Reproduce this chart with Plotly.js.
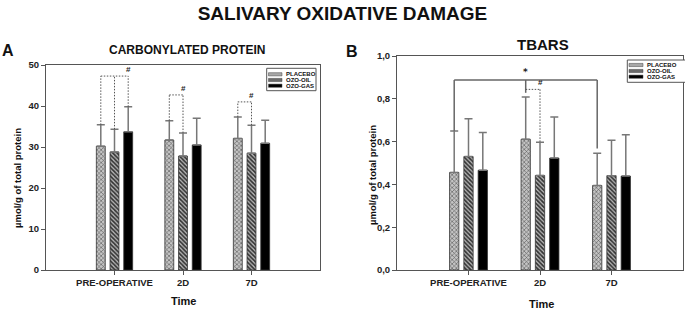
<!DOCTYPE html>
<html>
<head>
<meta charset="utf-8">
<script src="https://cdn.plot.ly/plotly-3.0.1.min.js"></script>
<style>
  html, body { margin: 0; padding: 0; background: #fff; }
  #chart { width: 685px; height: 310px; }
</style>
</head>
<body>
<div id="chart"></div>
<script>
// Time points
const categories = ['PRE-OPERATIVE', '2D', '7D'];
const groupNames = ['PLACEBO', 'OZO-OIL', 'OZO-GAS'];

// Carbonylated protein (µmol/g of total protein): mean and SD
const carbPlacebo = [30.2, 31.7, 32.1];
const carbPlaceboSD = [5.2, 4.7, 5.2];
const carbOil = [28.8, 27.8, 28.5];
const carbOilSD = [5.5, 5.6, 6.8];
const carbGas = [33.7, 30.5, 30.9];
const carbGasSD = [6.1, 6.5, 5.6];

// TBARS (µmol/g of total protein): mean and SD
const tbarsPlacebo = [0.456, 0.611, 0.395];
const tbarsPlaceboSD = [0.193, 0.197, 0.150];
const tbarsOil = [0.530, 0.442, 0.441];
const tbarsOilSD = [0.177, 0.155, 0.165];
const tbarsGas = [0.466, 0.523, 0.439];
const tbarsGasSD = [0.177, 0.192, 0.193];

const W = 685, H = 310;
const px = x => x / W;
const py = y => 1 - y / H;

const FONT = 'Liberation Sans, Arial, sans-serif';
const DOTS = '1.5px,1.5px';

const styles = [
  { pattern: { shape: 'x', size: 3, solidity: 0.35, fgcolor: '#555', bgcolor: '#c4c4c4' }, color: '#c4c4c4', legend: '#a8a8a8' },
  { pattern: { shape: '\\', size: 3, solidity: 0.55, fgcolor: '#333', bgcolor: '#b5b5b5' }, color: '#b5b5b5', legend: '#6a6a6a' },
  { pattern: { shape: '' }, color: '#000', legend: '#000' }
];

function barTrace(name, y, sd, idx, xa, ya) {
  return {
    type: 'bar',
    name: name,
    x: categories,
    y: y,
    xaxis: xa,
    yaxis: ya,
    showlegend: false,
    marker: {
      color: styles[idx].color,
      pattern: styles[idx].pattern,
      line: { color: '#333', width: 0.8 }
    },
    error_y: {
      type: 'data',
      symmetric: false,
      array: sd,
      arrayminus: sd.map(() => 0),
      color: '#777',
      thickness: 1.5,
      width: 4
    },
    hoverinfo: 'skip'
  };
}

const data = [
  barTrace(groupNames[0], carbPlacebo, carbPlaceboSD, 0, 'x', 'y'),
  barTrace(groupNames[1], carbOil, carbOilSD, 1, 'x', 'y'),
  barTrace(groupNames[2], carbGas, carbGasSD, 2, 'x', 'y'),
  barTrace(groupNames[0], tbarsPlacebo, tbarsPlaceboSD, 0, 'x2', 'y2'),
  barTrace(groupNames[1], tbarsOil, tbarsOilSD, 1, 'x2', 'y2'),
  barTrace(groupNames[2], tbarsGas, tbarsGasSD, 2, 'x2', 'y2')
];

const cap = (m, s, i) => m[i] + s[i];
const OFF = 0.2; // grouped bar offset within a time point

const shapes = [];
const annotations = [];

function seg(xa, ya, x0, y0, x1, y1, dash, color, width) {
  shapes.push({
    type: 'line', xref: xa, yref: ya, x0: x0, y0: y0, x1: x1, y1: y1,
    line: { color: color || '#555', width: width || 1, dash: dash || 'solid' }
  });
}
function mark(xa, ya, x, y, text, size, family) {
  annotations.push({
    xref: xa, yref: ya, x: x, y: y, text: text, showarrow: false,
    yanchor: 'bottom',
    font: { family: family || FONT, size: size || 8, color: '#222', weight: 'bold' }
  });
}

// Carbonylated protein: dotted comparison brackets
(function () {
  const lvl = 47.3;
  seg('x', 'y', -OFF, cap(carbPlacebo, carbPlaceboSD, 0), -OFF, lvl, DOTS);
  seg('x', 'y', 0, cap(carbOil, carbOilSD, 0), 0, lvl, DOTS);
  seg('x', 'y', OFF, cap(carbGas, carbGasSD, 0), OFF, lvl, DOTS);
  seg('x', 'y', -OFF, lvl, OFF, lvl, DOTS);
  mark('x', 'y', OFF, lvl, '#');

  const l2 = 42.7;
  seg('x', 'y', 1 - OFF, cap(carbPlacebo, carbPlaceboSD, 1), 1 - OFF, l2, DOTS);
  seg('x', 'y', 1, cap(carbOil, carbOilSD, 1), 1, l2, DOTS);
  seg('x', 'y', 1 - OFF, l2, 1, l2, DOTS);
  mark('x', 'y', 1, l2, '#');

  const l3 = 41.0;
  seg('x', 'y', 2 - OFF, cap(carbPlacebo, carbPlaceboSD, 2), 2 - OFF, l3, DOTS);
  seg('x', 'y', 2, cap(carbOil, carbOilSD, 2), 2, l3, DOTS);
  seg('x', 'y', 2 - OFF, l3, 2, l3, DOTS);
  mark('x', 'y', 2, l3, '#');
})();

// TBARS: solid bracket across time points for placebo, dotted for 2D groups
(function () {
  const top = 0.888;
  const c = '#666';
  seg('x2', 'y2', -OFF, cap(tbarsPlacebo, tbarsPlaceboSD, 0), -OFF, top, 'solid', c, 1.5);
  seg('x2', 'y2', -OFF, top, 2 - OFF, top, 'solid', c, 1.5);
  seg('x2', 'y2', 2 - OFF, top, 2 - OFF, cap(tbarsPlacebo, tbarsPlaceboSD, 2) + 0.023, 'solid', c, 1.5);
  seg('x2', 'y2', 1 - OFF, top, 1 - OFF, cap(tbarsPlacebo, tbarsPlaceboSD, 1) + 0.02, 'solid', c, 1.5);
  mark('x2', 'y2', 1 - OFF, top + 0.005, '*', 9, 'DejaVu Sans, sans-serif');

  const l = 0.844;
  seg('x2', 'y2', 1 - OFF, l, 1, l, DOTS);
  seg('x2', 'y2', 1, l, 1, cap(tbarsOil, tbarsOilSD, 1), DOTS);
  mark('x2', 'y2', 1, l, '#');
})();

// Legend boxes drawn in page pixels
function legendBox(x0, y0, x1, y1, rowYs, symX0, symX1, textX) {
  shapes.push({
    type: 'rect', xref: 'paper', yref: 'paper',
    x0: px(x0), x1: px(x1), y0: py(y1), y1: py(y0),
    line: { color: '#555', width: 1 }, fillcolor: '#fff', layer: 'above'
  });
  rowYs.forEach((ry, i) => {
    shapes.push({
      type: 'rect', xref: 'paper', yref: 'paper',
      x0: px(symX0), x1: px(symX1), y0: py(ry + 1.6), y1: py(ry - 1.6),
      line: { color: '#444', width: 0.5 }, fillcolor: styles[i].legend, layer: 'above'
    });
    annotations.push({
      xref: 'paper', yref: 'paper', x: px(textX), y: py(ry),
      xanchor: 'left', yanchor: 'middle', showarrow: false,
      text: groupNames[i],
      font: { family: FONT, size: 6, color: '#111', weight: 'bold' }
    });
  });
}
legendBox(266.7, 68.3, 316, 90.7, [74.3, 80, 85.7], 268.5, 282, 284);
legendBox(627.3, 60, 690, 82.3, [65, 71, 76.7], 629, 643, 645);

// Panel labels, subtitles, axis titles
function text(x, y, t, size, extra) {
  annotations.push(Object.assign({
    xref: 'paper', yref: 'paper', x: px(x), y: py(y), text: t, showarrow: false,
    xanchor: 'center', yanchor: 'middle',
    font: { family: FONT, size: size, color: '#111', weight: 'bold' }
  }, extra || {}));
}
text(8, 50.5, 'A', 16);
text(352, 51.5, 'B', 16);
text(186.5, 50.5, 'CARBONYLATED PROTEIN', 12);
text(543, 45, 'TBARS', 15);
text(17, 178, 'µmol/g of total protein', 9.5, { textangle: -90 });
text(372, 175, 'µmol/g of total protein', 9.5, { textangle: -90 });
text(183.5, 300.5, 'Time', 11);
text(541.5, 304, 'Time', 11);

const axisCommon = {
  showline: true, linecolor: '#555', linewidth: 1, mirror: true,
  ticks: 'outside', ticklen: 4, tickcolor: '#555',
  showgrid: false, zeroline: false, fixedrange: true,
  tickfont: { family: FONT, size: 9.5, color: '#222', weight: 'bold' }
};

const layout = {
  width: W, height: H,
  margin: { l: 0, r: 0, t: 0, b: 0 },
  paper_bgcolor: '#fff', plot_bgcolor: '#fff',
  separators: ', ',
  font: { family: FONT, color: '#111' },
  title: {
    text: 'SALIVARY OXIDATIVE DAMAGE',
    x: 0.5, xanchor: 'center', y: py(13), yref: 'container', yanchor: 'middle',
    font: { family: FONT, size: 19, color: '#111', weight: 'bold' }
  },
  barmode: 'group',
  bargap: 0.4,
  bargroupgap: 0.35,
  showlegend: false,
  xaxis: Object.assign({}, axisCommon, {
    domain: [px(46), px(320)], anchor: 'y', type: 'category', range: [-1, 3]
  }),
  yaxis: Object.assign({}, axisCommon, {
    domain: [py(270), py(65)], anchor: 'x', range: [0, 50], dtick: 10
  }),
  xaxis2: Object.assign({}, axisCommon, {
    domain: [px(397), px(683)], anchor: 'y2', type: 'category', range: [-1, 3]
  }),
  yaxis2: Object.assign({}, axisCommon, {
    domain: [py(270), py(56)], anchor: 'x2', range: [0, 1], dtick: 0.2, tickformat: '.1f'
  }),
  shapes: shapes,
  annotations: annotations
};

Plotly.newPlot('chart', data, layout, { displayModeBar: false, staticPlot: true });
</script>
</body>
</html>
